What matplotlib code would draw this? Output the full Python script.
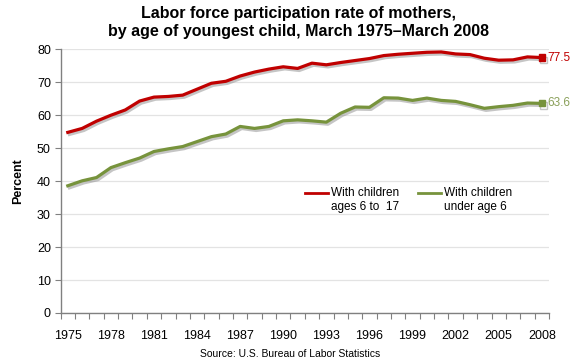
import matplotlib.pyplot as plt
import matplotlib.patheffects as pe
from matplotlib.lines import Line2D
import numpy as np

plt.rcParams['font.family'] = ['Liberation Sans', 'DejaVu Sans']

years = list(range(1975, 2009))
kids_6_17 = [54.8, 56.0, 58.2, 60.0, 61.6, 64.3, 65.5, 65.7, 66.1, 67.9, 69.7, 70.3,
             71.9, 73.1, 74.0, 74.7, 74.2, 75.8, 75.3, 76.0, 76.6, 77.2, 78.1, 78.5,
             78.8, 79.1, 79.2, 78.6, 78.4, 77.3, 76.7, 76.8, 77.7, 77.5]
kids_under_6 = [38.6, 40.1, 41.1, 44.1, 45.6, 47.0, 49.0, 49.8, 50.5, 52.0, 53.5, 54.3,
                56.6, 56.0, 56.6, 58.3, 58.6, 58.3, 57.9, 60.6, 62.5, 62.4, 65.3, 65.2,
                64.5, 65.2, 64.5, 64.2, 63.2, 62.1, 62.6, 63.0, 63.7, 63.6]
series_labels = ['With children\nages 6 to  17', 'With children\nunder age 6']
colors = ['#C00000', '#77933C']
label_colors = ['#C00000', '#8AA05A']

fig = plt.figure(figsize=(5.8, 3.6), dpi=100)
ax = fig.add_axes([0.1045, 0.1306, 0.842, 0.7324])

x = np.arange(len(years))
shadow = [pe.SimpleLineShadow(offset=(1.2, -1.5), shadow_color='#808080', alpha=0.45),
          pe.Normal()]
handles = []
for vals, col, lab, lcol in zip([kids_6_17, kids_under_6], colors, series_labels, label_colors):
    ax.plot(x, vals, color=col, lw=2.3, path_effects=shadow, solid_joinstyle='round')
    ax.plot(x[-1], vals[-1], marker='s', ms=4.5, color=col, path_effects=shadow)
    ax.annotate(f'{vals[-1]:.1f}', (x[-1], vals[-1]), xytext=(4, 0), textcoords='offset points',
                va='center', ha='left', color=lcol, fontsize=8.5, annotation_clip=False)
    handles.append(Line2D([], [], color=col, lw=2.0, label=lab))

ax.set_xlim(-0.5, len(years) - 0.5)
ax.set_ylim(0, 80)
ax.set_yticks(range(0, 81, 10))
ax.grid(axis='y', color='#e3e3e3', lw=0.9)
ax.set_axisbelow(True)

ax.set_xticks(np.arange(-0.5, len(years), 1))
ax.set_xticklabels([])
ax.set_xticks(x[::3], minor=True)
ax.set_xticklabels([str(y) for y in years[::3]], minor=True)
ax.tick_params(axis='x', which='major', length=4, color='#808080', direction='out')
ax.tick_params(axis='x', which='minor', length=0, pad=12, labelsize=9)
ax.tick_params(axis='y', length=4, color='#808080', labelsize=9, pad=3)

for s in ['top', 'right']:
    ax.spines[s].set_visible(False)
for s in ['left', 'bottom']:
    ax.spines[s].set_color('#808080')
    ax.spines[s].set_linewidth(1.0)

ax.set_ylabel('Percent', fontsize=9, fontweight='bold', labelpad=9)

fig.suptitle('Labor force participation rate of mothers,\nby age of youngest child, March 1975\u2013March 2008',
             x=0.515, y=0.982, fontsize=11.5, fontweight='bold', linespacing=1.22)

leg = ax.legend(handles=handles, loc='upper left', bbox_to_anchor=(0.49, 0.496), ncol=2, frameon=False,
                fontsize=8.5, handlelength=2.0, handletextpad=0.2, columnspacing=1.6, borderaxespad=0,
                labelspacing=0.3)
# put the legend swatches level with the first line of each label, as in the original
for ln in leg.get_lines():
    ln.set_ydata(np.asarray(ln.get_ydata()) + 5.0)

fig.text(0.5, 0.002, 'Source: U.S. Bureau of Labor Statistics', ha='center', va='bottom', fontsize=7.5)

fig.savefig('out.png', dpi=100)
